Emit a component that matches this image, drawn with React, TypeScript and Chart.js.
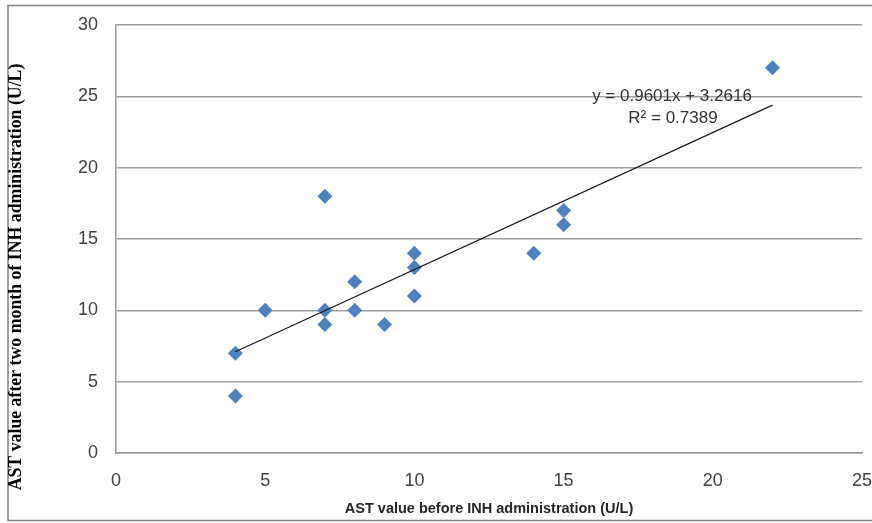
import React, { useEffect, useRef } from "react";
import { Chart, registerables } from "chart.js";

Chart.register(...registerables);

const beforeAST = [4, 4, 5, 7, 7, 7, 8, 8, 9, 10, 10, 10, 14, 15, 15, 22];
const afterAST = [7, 4, 10, 18, 10, 9, 12, 10, 9, 14, 13, 11, 14, 17, 16, 27];
const trendX = [4, 22];
const trendY = [7.1025, 24.3838];
const equationText = "y = 0.9601x + 3.2616";
const r2Text = "R\u00B2 = 0.7389";
const xTitle = "AST value before INH administration (U/L)";
const yTitle = "AST value after two month of INH administration (U/L)";
const xTicks = [0, 5, 10, 15, 20, 25];
const yTicks = [0, 5, 10, 15, 20, 25, 30];

const decorPlugin = {
  id: "decor",
  afterDraw(chart: any) {
    const ctx = chart.ctx;
    ctx.save();
    // outer frame
    ctx.strokeStyle = "#808080";
    ctx.lineWidth = 1.5;
    ctx.strokeRect(8, 5.5, 870, 515);
    // equation
    ctx.fillStyle = "#333333";
    ctx.font = "17px 'Liberation Sans', Arial, sans-serif";
    ctx.textAlign = "center";
    ctx.textBaseline = "middle";
    ctx.fillText(equationText, 672, 96);
    ctx.fillText(r2Text, 673, 118);
    // x title
    ctx.fillStyle = "#262626";
    ctx.font = "bold 14.5px 'Liberation Sans', Arial, sans-serif";
    ctx.fillText(xTitle, 489, 509);
    // y title
    ctx.translate(16, 277);
    ctx.rotate(-Math.PI / 2);
    ctx.fillStyle = "#000000";
    ctx.font = "bold 17.8px 'Liberation Serif', 'Times New Roman', serif";
    ctx.fillText(yTitle, 0, 0);
    ctx.restore();
  },
};

export default function App() {
  const ref = useRef<HTMLCanvasElement | null>(null);
  useEffect(() => {
    if (!ref.current) return;
    const chart = new Chart(ref.current, {
      type: "scatter",
      data: {
        datasets: [
          {
            label: "AST",
            data: beforeAST.map((x, i) => ({ x, y: afterAST[i] })),
            pointStyle: "rectRot",
            pointRadius: 7.5,
            pointHoverRadius: 7.5,
            backgroundColor: "#4F81BD",
            borderColor: "#4F81BD",
            borderWidth: 0,
            showLine: false,
            order: 1,
          },
          {
            label: "Trend",
            type: "line",
            data: trendX.map((x, i) => ({ x, y: trendY[i] })),
            borderColor: "#1a1a1a",
            borderWidth: 1.2,
            pointRadius: 0,
            fill: false,
            order: 0,
          } as any,
        ],
      },
      options: {
        animation: false,
        responsive: true,
        maintainAspectRatio: false,
        layout: { padding: { left: 0, right: 10, top: 25, bottom: 0 } },
        plugins: {
          legend: { display: false },
          tooltip: { enabled: false },
          title: { display: false },
        },
        scales: {
          x: {
            type: "linear",
            min: 0,
            max: 25,
            afterBuildTicks: (s: any) => {
              s.ticks = xTicks.map((v) => ({ value: v }));
            },
            afterFit: (s: any) => {
              s.height = 70;
              s.paddingLeft = 0;
              s.paddingRight = 0;
            },
            grid: { display: false, drawTicks: false },
            border: { display: true, color: "#999999", width: 1.5 },
            ticks: {
              padding: 17,
              color: "#404040",
              font: { size: 18, family: "'Liberation Sans', Arial, sans-serif" },
              maxRotation: 0,
            },
          },
          y: {
            type: "linear",
            min: 0,
            max: 30,
            afterBuildTicks: (s: any) => {
              s.ticks = yTicks.map((v) => ({ value: v }));
            },
            afterFit: (s: any) => {
              s.width = 116;
              s.paddingTop = 0;
              s.paddingBottom = 0;
            },
            grid: { color: "#A0A0A0", lineWidth: 1.5, drawTicks: false },
            border: { display: true, color: "#999999", width: 1.5 },
            ticks: {
              padding: 18,
              color: "#404040",
              font: { size: 18, family: "'Liberation Sans', Arial, sans-serif" },
            },
          },
        },
      },
      plugins: [decorPlugin],
    });
    return () => chart.destroy();
  }, []);
  return (
    <div style={{ position: "fixed", left: 0, top: 0, width: 872, height: 523, background: "#fff" }}>
      <canvas ref={ref} />
    </div>
  );
}
